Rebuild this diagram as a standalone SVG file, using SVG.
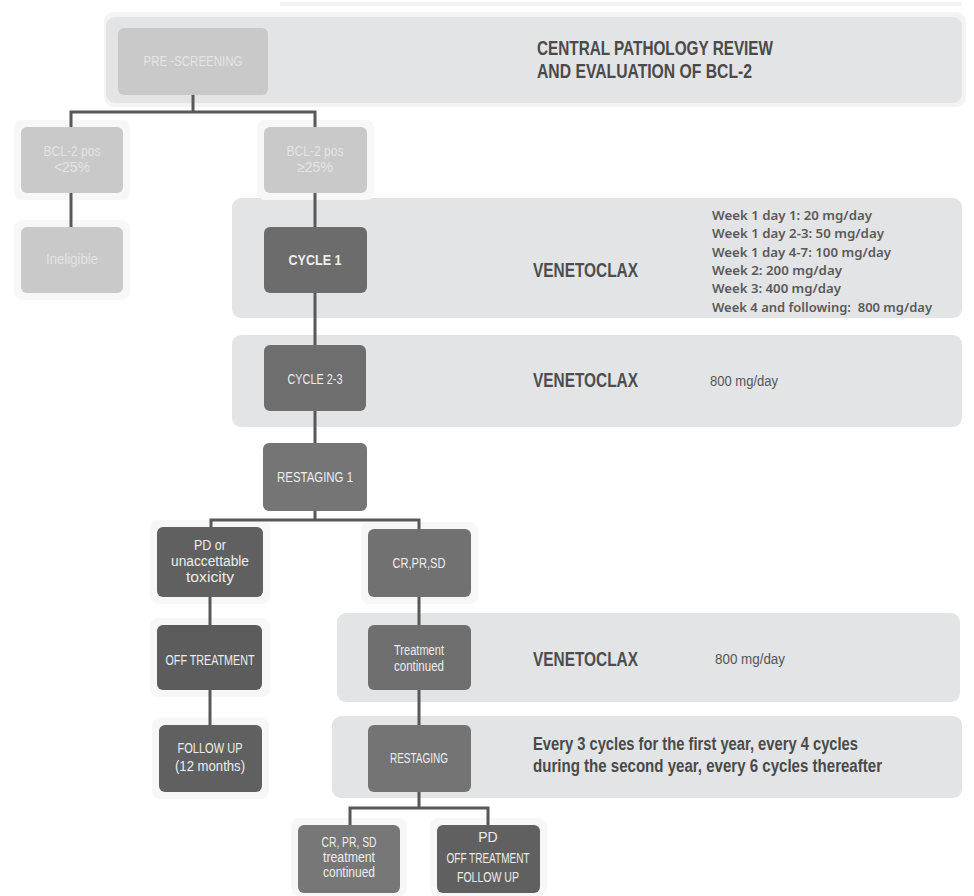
<svg xmlns="http://www.w3.org/2000/svg" width="974" height="896" viewBox="0 0 974 896">
  <style>
    .band { fill: #e3e4e5; }
    .halo { fill: #f7f7f7; }
    .light { fill: #c9c9c9; }
    .mid { fill: #757575; }
    .dark { fill: #606060; }
    .ntxt { font-family: "Liberation Sans", Arial, sans-serif; font-size: 14px; fill: #ededed; text-anchor: middle; }
    .ltxt { font-family: "Liberation Sans", Arial, sans-serif; font-size: 14px; fill: #e4e4e4; text-anchor: middle; }
    .head { font-family: "Liberation Sans", Arial, sans-serif; font-weight: bold; font-size: 21px; fill: #4a4a4a; }
    .drug { font-family: "Liberation Sans", Arial, sans-serif; font-weight: bold; font-size: 20px; fill: #4d4d4d; }
    .dose { font-family: "Liberation Sans", Arial, sans-serif; font-size: 14px; fill: #555; }
    .week { font-family: "Noto Sans", "Liberation Sans", sans-serif; font-weight: 600; font-size: 12.5px; fill: #5a5a5a; }
    .sched { font-family: "Liberation Sans", Arial, sans-serif; font-weight: bold; font-size: 18px; fill: #4a4a4a; }
    .conn { fill: none; stroke: #585858; stroke-width: 3; }
  </style>

  <rect width="974" height="896" fill="#ffffff"/>

  <!-- background bands -->
  <g id="bands">
    <rect x="280" y="2" width="682" height="4" fill="#f4f4f4"/>
    <rect x="104" y="12" width="862" height="95" rx="10" fill="#f3f3f3"/>
    <rect x="106" y="17" width="856" height="86" rx="9" class="band"/>
    <rect x="232" y="198" width="730" height="120" rx="9" class="band"/>
    <rect x="232" y="335" width="730" height="92" rx="9" class="band"/>
    <rect x="337" y="613" width="623" height="89" rx="9" class="band"/>
    <rect x="332" y="716" width="630" height="82" rx="9" class="band"/>
  </g>

  <!-- soft halos behind the boxes -->
  <g id="halos">
    <rect x="14" y="120" width="116" height="80" rx="8" class="halo"/>
    <rect x="14" y="220" width="116" height="80" rx="8" class="halo"/>
    <rect x="257" y="120" width="117" height="80" rx="8" class="halo"/>
    <rect x="150" y="520" width="120" height="84" rx="8" class="halo"/>
    <rect x="361" y="522" width="117" height="82" rx="8" class="halo"/>
    <rect x="150" y="618" width="120" height="79" rx="8" class="halo"/>
    <rect x="152" y="718" width="117" height="81" rx="8" class="halo"/>
    <rect x="291" y="818" width="116" height="78" rx="8" class="halo"/>
    <rect x="430" y="818" width="117" height="78" rx="8" class="halo"/>
  </g>

  <!-- connectors -->
  <g id="connectors">
    <path class="conn" d="M193 95 V112 M71 127 V112 H315 V127"/>
    <path class="conn" d="M71 193 V227"/>
    <path class="conn" d="M315 193 V227"/>
    <path class="conn" d="M315 293 V345"/>
    <path class="conn" d="M315 411 V443"/>
    <path class="conn" d="M315 511 V520 M211 527 V520 H419 V529"/>
    <path class="conn" d="M210 597 V625"/>
    <path class="conn" d="M419 597 V625"/>
    <path class="conn" d="M210 690 V725"/>
    <path class="conn" d="M419 690 V725"/>
    <path class="conn" d="M419 792 V808 M350 825 V808 H488 V825"/>
  </g>

  <!-- band texts -->
  <g id="band-texts">
    <text class="head" x="537" y="55" textLength="236" lengthAdjust="spacingAndGlyphs">CENTRAL PATHOLOGY REVIEW</text>
    <text class="head" x="537" y="78" textLength="215" lengthAdjust="spacingAndGlyphs">AND EVALUATION OF BCL-2</text>

    <text class="drug" x="533" y="277" textLength="105" lengthAdjust="spacingAndGlyphs">VENETOCLAX</text>
    <text class="week" x="712" y="220" textLength="160" lengthAdjust="spacingAndGlyphs">Week 1 day 1: 20 mg/day</text>
    <text class="week" x="712" y="238.3" textLength="172" lengthAdjust="spacingAndGlyphs">Week 1 day 2-3: 50 mg/day</text>
    <text class="week" x="712" y="256.6" textLength="179" lengthAdjust="spacingAndGlyphs">Week 1 day 4-7: 100 mg/day</text>
    <text class="week" x="712" y="275" textLength="130" lengthAdjust="spacingAndGlyphs">Week 2: 200 mg/day</text>
    <text class="week" x="712" y="293.3" textLength="129" lengthAdjust="spacingAndGlyphs">Week 3: 400 mg/day</text>
    <text class="week" x="712" y="311.6" textLength="220" lengthAdjust="spacingAndGlyphs">Week 4 and following:&#160; 800 mg/day</text>

    <text class="drug" x="533" y="387" textLength="105" lengthAdjust="spacingAndGlyphs">VENETOCLAX</text>
    <text class="dose" x="710" y="386" textLength="68" lengthAdjust="spacingAndGlyphs">800 mg/day</text>

    <text class="drug" x="533" y="666" textLength="105" lengthAdjust="spacingAndGlyphs">VENETOCLAX</text>
    <text class="dose" x="715" y="664" textLength="70" lengthAdjust="spacingAndGlyphs">800 mg/day</text>

    <text class="sched" x="533" y="750" textLength="325" lengthAdjust="spacingAndGlyphs">Every 3 cycles for the first year, every 4 cycles</text>
    <text class="sched" x="533" y="772" textLength="349" lengthAdjust="spacingAndGlyphs">during the second year, every 6 cycles thereafter</text>
  </g>

  <!-- nodes -->
  <g id="pre-screening">
    <rect x="118" y="28" width="150" height="67" rx="6" class="light"/>
    <text class="ltxt" x="193" y="66" font-size="15" textLength="99" lengthAdjust="spacingAndGlyphs">PRE -SCREENING</text>
  </g>
  <g id="bcl2-low">
    <rect x="21" y="127" width="102" height="66" rx="6" class="light"/>
    <text class="ltxt" x="72" y="156" font-size="12" textLength="57" lengthAdjust="spacingAndGlyphs">BCL-2 pos</text>
    <text class="ltxt" x="72" y="172" font-size="12">&lt;25%</text>
  </g>
  <g id="bcl2-high">
    <rect x="264" y="127" width="103" height="66" rx="6" class="light"/>
    <text class="ltxt" x="315" y="156" font-size="12" textLength="57" lengthAdjust="spacingAndGlyphs">BCL-2 pos</text>
    <text class="ltxt" x="315" y="172" font-size="12">≥25%</text>
  </g>
  <g id="ineligible">
    <rect x="21" y="227" width="102" height="66" rx="6" class="light"/>
    <text class="ltxt" x="72" y="264" textLength="52" lengthAdjust="spacingAndGlyphs">Ineligible</text>
  </g>
  <g id="cycle-1">
    <rect x="264" y="227" width="103" height="66" rx="6" fill="#6c6c6c"/>
    <text class="ntxt" x="315" y="265" font-size="17" font-weight="bold" textLength="53" lengthAdjust="spacingAndGlyphs">CYCLE 1</text>
  </g>
  <g id="cycle-2-3">
    <rect x="264" y="345" width="102" height="66" rx="6" fill="#6e6e6e"/>
    <text class="ntxt" x="315" y="384" font-size="15" textLength="55" lengthAdjust="spacingAndGlyphs">CYCLE 2-3</text>
  </g>
  <g id="restaging-1">
    <rect x="263" y="443" width="104" height="68" rx="6" class="mid"/>
    <text class="ntxt" x="315" y="482" textLength="76" lengthAdjust="spacingAndGlyphs">RESTAGING  1</text>
  </g>
  <g id="pd-toxicity">
    <rect x="157" y="527" width="106" height="70" rx="6" class="dark"/>
    <text class="ntxt" x="210" y="550" font-size="12" textLength="32" lengthAdjust="spacingAndGlyphs">PD or</text>
    <text class="ntxt" x="210" y="566" font-size="12" textLength="78" lengthAdjust="spacingAndGlyphs">unaccettable</text>
    <text class="ntxt" x="210" y="582" font-size="12" textLength="48" lengthAdjust="spacingAndGlyphs">toxicity</text>
  </g>
  <g id="cr-pr-sd">
    <rect x="368" y="529" width="103" height="68" rx="6" fill="#717171"/>
    <text class="ntxt" x="419" y="568" textLength="53" lengthAdjust="spacingAndGlyphs">CR,PR,SD</text>
  </g>
  <g id="off-treatment">
    <rect x="157" y="625" width="105" height="65" rx="6" fill="#5c5c5c"/>
    <text class="ntxt" x="210" y="665" textLength="89" lengthAdjust="spacingAndGlyphs">OFF TREATMENT</text>
  </g>
  <g id="treatment-continued">
    <rect x="368" y="625" width="103" height="65" rx="6" fill="#6f6f6f"/>
    <text class="ntxt" x="419" y="655" font-size="12" textLength="50" lengthAdjust="spacingAndGlyphs">Treatment</text>
    <text class="ntxt" x="419" y="671" font-size="12" textLength="50" lengthAdjust="spacingAndGlyphs">continued</text>
  </g>
  <g id="follow-up">
    <rect x="159" y="725" width="103" height="67" rx="6" class="dark"/>
    <text class="ntxt" x="210" y="753" textLength="65" lengthAdjust="spacingAndGlyphs">FOLLOW UP</text>
    <text class="ntxt" x="210" y="771" textLength="70" lengthAdjust="spacingAndGlyphs">(12 months)</text>
  </g>
  <g id="restaging">
    <rect x="368" y="725" width="103" height="67" rx="6" fill="#747474"/>
    <text class="ntxt" x="419" y="763" font-size="13" textLength="58" lengthAdjust="spacingAndGlyphs">RESTAGING</text>
  </g>
  <g id="continue-treatment">
    <rect x="298" y="825" width="102" height="68" rx="6" fill="#777777"/>
    <text class="ntxt" x="349" y="847" font-size="11" textLength="55" lengthAdjust="spacingAndGlyphs">CR, PR, SD</text>
    <text class="ntxt" x="349" y="862" font-size="11" textLength="52" lengthAdjust="spacingAndGlyphs">treatment</text>
    <text class="ntxt" x="349" y="877" font-size="11" textLength="52" lengthAdjust="spacingAndGlyphs">continued</text>
  </g>
  <g id="pd-off-follow">
    <rect x="437" y="825" width="103" height="68" rx="6" class="dark"/>
    <text class="ntxt" x="488" y="842" font-size="13">PD</text>
    <text class="ntxt" x="488" y="863" font-size="13" textLength="83" lengthAdjust="spacingAndGlyphs">OFF TREATMENT</text>
    <text class="ntxt" x="488" y="882" font-size="13" textLength="62" lengthAdjust="spacingAndGlyphs">FOLLOW UP</text>
  </g>
</svg>
